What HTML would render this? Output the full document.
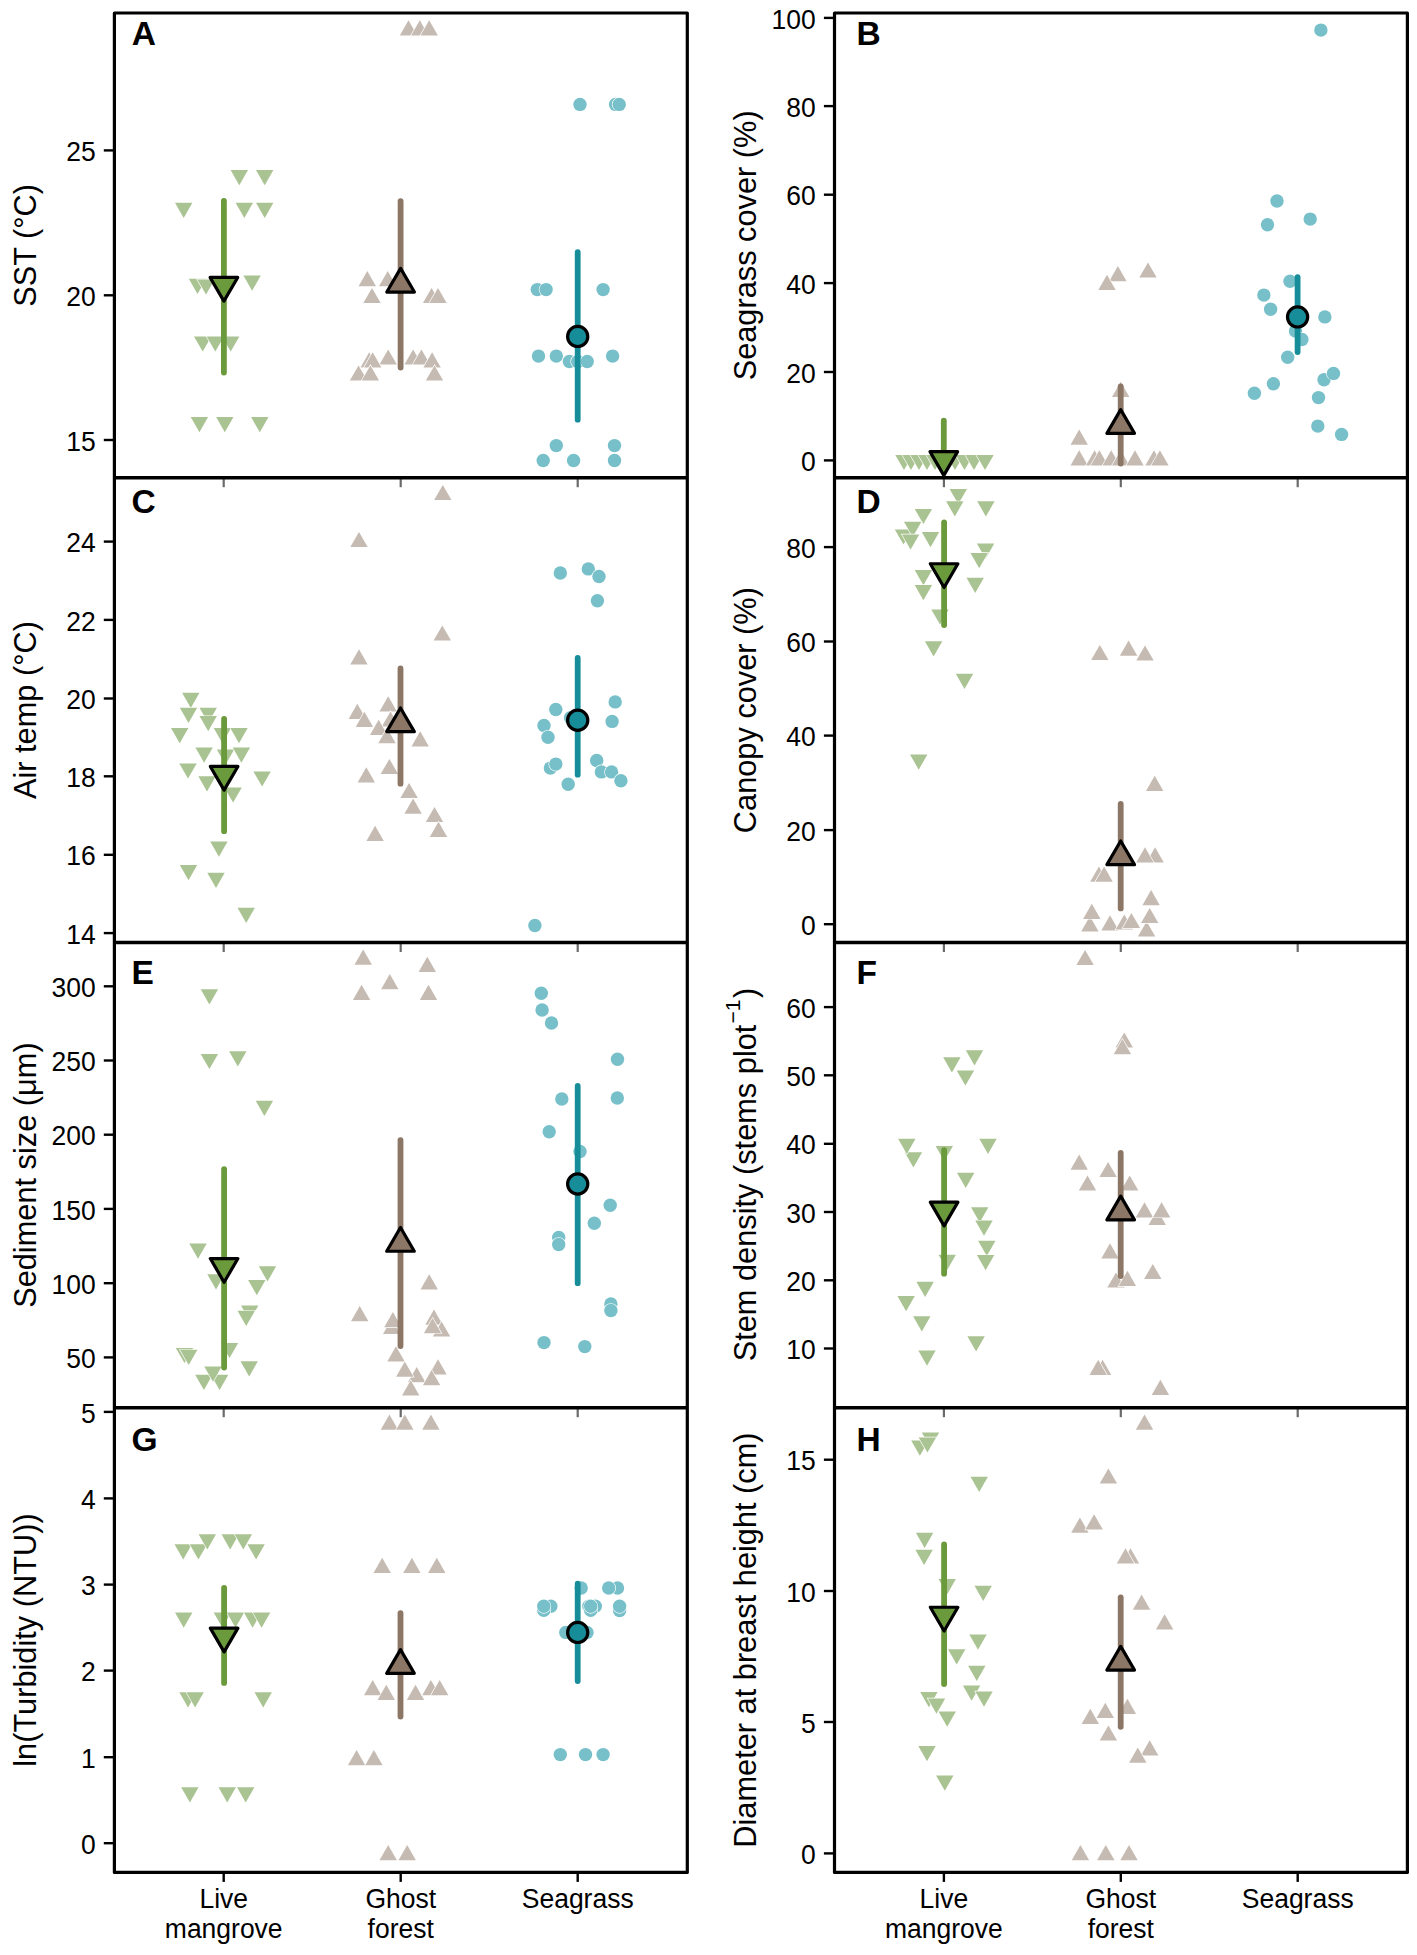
<!DOCTYPE html><html><head><meta charset="utf-8"><title>Figure</title><style>html,body{margin:0;padding:0;background:#fff;}svg{display:block;}text{font-family:"Liberation Sans", sans-serif;}</style></head><body>
<svg width="1417" height="1955" viewBox="0 0 1417 1955">
<rect width="1417" height="1955" fill="#fff"/>
<clipPath id="cA"><rect x="114.4" y="13.0" width="572.9" height="464.7"/></clipPath>
<g clip-path="url(#cA)">
<polygon points="230.60,170.10 248.00,170.10 239.30,185.30" fill="#aac392" stroke="#fff" stroke-width="1.30" stroke-linejoin="miter" paint-order="stroke"/>
<polygon points="256.00,170.10 273.40,170.10 264.70,185.30" fill="#aac392" stroke="#fff" stroke-width="1.30" stroke-linejoin="miter" paint-order="stroke"/>
<polygon points="175.00,202.70 192.40,202.70 183.70,217.90" fill="#aac392" stroke="#fff" stroke-width="1.30" stroke-linejoin="miter" paint-order="stroke"/>
<polygon points="235.60,202.70 253.00,202.70 244.30,217.90" fill="#aac392" stroke="#fff" stroke-width="1.30" stroke-linejoin="miter" paint-order="stroke"/>
<polygon points="256.00,202.70 273.40,202.70 264.70,217.90" fill="#aac392" stroke="#fff" stroke-width="1.30" stroke-linejoin="miter" paint-order="stroke"/>
<polygon points="188.80,278.80 206.20,278.80 197.50,294.00" fill="#aac392" stroke="#fff" stroke-width="1.30" stroke-linejoin="miter" paint-order="stroke"/>
<polygon points="197.30,279.40 214.70,279.40 206.00,294.60" fill="#aac392" stroke="#fff" stroke-width="1.30" stroke-linejoin="miter" paint-order="stroke"/>
<polygon points="243.40,275.50 260.80,275.50 252.10,290.70" fill="#aac392" stroke="#fff" stroke-width="1.30" stroke-linejoin="miter" paint-order="stroke"/>
<polygon points="194.00,336.40 211.40,336.40 202.70,351.60" fill="#aac392" stroke="#fff" stroke-width="1.30" stroke-linejoin="miter" paint-order="stroke"/>
<polygon points="206.60,336.40 224.00,336.40 215.30,351.60" fill="#aac392" stroke="#fff" stroke-width="1.30" stroke-linejoin="miter" paint-order="stroke"/>
<polygon points="222.00,336.40 239.40,336.40 230.70,351.60" fill="#aac392" stroke="#fff" stroke-width="1.30" stroke-linejoin="miter" paint-order="stroke"/>
<polygon points="190.70,417.10 208.10,417.10 199.40,432.30" fill="#aac392" stroke="#fff" stroke-width="1.30" stroke-linejoin="miter" paint-order="stroke"/>
<polygon points="216.10,417.10 233.50,417.10 224.80,432.30" fill="#aac392" stroke="#fff" stroke-width="1.30" stroke-linejoin="miter" paint-order="stroke"/>
<polygon points="251.10,417.10 268.50,417.10 259.80,432.30" fill="#aac392" stroke="#fff" stroke-width="1.30" stroke-linejoin="miter" paint-order="stroke"/>
<line x1="223.90" y1="200.90" x2="223.90" y2="372.60" stroke="#6b9a3c" stroke-width="5.80" stroke-linecap="round"/>
<polygon points="210.10,277.45 237.70,277.45 223.90,301.15" fill="#6b9a3c" stroke="#000" stroke-width="3.20" stroke-linejoin="round"/>
<polygon points="399.80,35.40 417.20,35.40 408.50,20.20" fill="#c6bbb2" stroke="#fff" stroke-width="1.30" stroke-linejoin="miter" paint-order="stroke"/>
<polygon points="411.10,35.40 428.50,35.40 419.80,20.20" fill="#c6bbb2" stroke="#fff" stroke-width="1.30" stroke-linejoin="miter" paint-order="stroke"/>
<polygon points="420.50,35.40 437.90,35.40 429.20,20.20" fill="#c6bbb2" stroke="#fff" stroke-width="1.30" stroke-linejoin="miter" paint-order="stroke"/>
<polygon points="358.60,286.20 376.00,286.20 367.30,271.00" fill="#c6bbb2" stroke="#fff" stroke-width="1.30" stroke-linejoin="miter" paint-order="stroke"/>
<polygon points="379.00,286.20 396.40,286.20 387.70,271.00" fill="#c6bbb2" stroke="#fff" stroke-width="1.30" stroke-linejoin="miter" paint-order="stroke"/>
<polygon points="363.30,303.10 380.70,303.10 372.00,287.90" fill="#c6bbb2" stroke="#fff" stroke-width="1.30" stroke-linejoin="miter" paint-order="stroke"/>
<polygon points="422.90,303.10 440.30,303.10 431.60,287.90" fill="#c6bbb2" stroke="#fff" stroke-width="1.30" stroke-linejoin="miter" paint-order="stroke"/>
<polygon points="429.30,303.10 446.70,303.10 438.00,287.90" fill="#c6bbb2" stroke="#fff" stroke-width="1.30" stroke-linejoin="miter" paint-order="stroke"/>
<polygon points="379.50,364.60 396.90,364.60 388.20,349.40" fill="#c6bbb2" stroke="#fff" stroke-width="1.30" stroke-linejoin="miter" paint-order="stroke"/>
<polygon points="360.50,367.40 377.90,367.40 369.20,352.20" fill="#c6bbb2" stroke="#fff" stroke-width="1.30" stroke-linejoin="miter" paint-order="stroke"/>
<polygon points="364.00,367.40 381.40,367.40 372.70,352.20" fill="#c6bbb2" stroke="#fff" stroke-width="1.30" stroke-linejoin="miter" paint-order="stroke"/>
<polygon points="349.80,380.60 367.20,380.60 358.50,365.40" fill="#c6bbb2" stroke="#fff" stroke-width="1.30" stroke-linejoin="miter" paint-order="stroke"/>
<polygon points="361.70,380.60 379.10,380.60 370.40,365.40" fill="#c6bbb2" stroke="#fff" stroke-width="1.30" stroke-linejoin="miter" paint-order="stroke"/>
<polygon points="404.40,364.60 421.80,364.60 413.10,349.40" fill="#c6bbb2" stroke="#fff" stroke-width="1.30" stroke-linejoin="miter" paint-order="stroke"/>
<polygon points="412.70,364.60 430.10,364.60 421.40,349.40" fill="#c6bbb2" stroke="#fff" stroke-width="1.30" stroke-linejoin="miter" paint-order="stroke"/>
<polygon points="423.40,367.40 440.80,367.40 432.10,352.20" fill="#c6bbb2" stroke="#fff" stroke-width="1.30" stroke-linejoin="miter" paint-order="stroke"/>
<polygon points="425.80,380.60 443.20,380.60 434.50,365.40" fill="#c6bbb2" stroke="#fff" stroke-width="1.30" stroke-linejoin="miter" paint-order="stroke"/>
<line x1="400.60" y1="201.10" x2="400.60" y2="367.60" stroke="#8c7666" stroke-width="5.80" stroke-linecap="round"/>
<polygon points="386.80,292.05 414.40,292.05 400.60,268.35" fill="#8c7666" stroke="#000" stroke-width="3.20" stroke-linejoin="round"/>
<circle cx="580.00" cy="104.40" r="6.70" fill="#77c0c9" stroke="#fff" stroke-width="1.30" paint-order="stroke"/>
<circle cx="615.60" cy="104.40" r="6.70" fill="#77c0c9" stroke="#fff" stroke-width="1.30" paint-order="stroke"/>
<circle cx="619.20" cy="104.40" r="6.70" fill="#77c0c9" stroke="#fff" stroke-width="1.30" paint-order="stroke"/>
<circle cx="537.30" cy="289.60" r="6.70" fill="#77c0c9" stroke="#fff" stroke-width="1.30" paint-order="stroke"/>
<circle cx="546.10" cy="289.60" r="6.70" fill="#77c0c9" stroke="#fff" stroke-width="1.30" paint-order="stroke"/>
<circle cx="603.10" cy="289.60" r="6.70" fill="#77c0c9" stroke="#fff" stroke-width="1.30" paint-order="stroke"/>
<circle cx="538.50" cy="356.10" r="6.70" fill="#77c0c9" stroke="#fff" stroke-width="1.30" paint-order="stroke"/>
<circle cx="556.30" cy="356.10" r="6.70" fill="#77c0c9" stroke="#fff" stroke-width="1.30" paint-order="stroke"/>
<circle cx="569.40" cy="361.50" r="6.70" fill="#77c0c9" stroke="#fff" stroke-width="1.30" paint-order="stroke"/>
<circle cx="577.70" cy="361.50" r="6.70" fill="#77c0c9" stroke="#fff" stroke-width="1.30" paint-order="stroke"/>
<circle cx="587.20" cy="361.50" r="6.70" fill="#77c0c9" stroke="#fff" stroke-width="1.30" paint-order="stroke"/>
<circle cx="612.60" cy="356.10" r="6.70" fill="#77c0c9" stroke="#fff" stroke-width="1.30" paint-order="stroke"/>
<circle cx="556.30" cy="445.60" r="6.70" fill="#77c0c9" stroke="#fff" stroke-width="1.30" paint-order="stroke"/>
<circle cx="614.50" cy="445.60" r="6.70" fill="#77c0c9" stroke="#fff" stroke-width="1.30" paint-order="stroke"/>
<circle cx="543.20" cy="460.50" r="6.70" fill="#77c0c9" stroke="#fff" stroke-width="1.30" paint-order="stroke"/>
<circle cx="573.60" cy="460.50" r="6.70" fill="#77c0c9" stroke="#fff" stroke-width="1.30" paint-order="stroke"/>
<circle cx="614.50" cy="460.50" r="6.70" fill="#77c0c9" stroke="#fff" stroke-width="1.30" paint-order="stroke"/>
<line x1="577.70" y1="252.10" x2="577.70" y2="419.70" stroke="#168d99" stroke-width="5.80" stroke-linecap="round"/>
<circle cx="577.70" cy="336.40" r="10.10" fill="#168d99" stroke="#000" stroke-width="3.20"/>
</g>
<clipPath id="cB"><rect x="834.5" y="13.0" width="572.9" height="464.7"/></clipPath>
<g clip-path="url(#cB)">
<polygon points="895.30,454.90 912.70,454.90 904.00,470.10" fill="#aac392" stroke="#fff" stroke-width="1.30" stroke-linejoin="miter" paint-order="stroke"/>
<polygon points="902.30,454.90 919.70,454.90 911.00,470.10" fill="#aac392" stroke="#fff" stroke-width="1.30" stroke-linejoin="miter" paint-order="stroke"/>
<polygon points="910.30,454.90 927.70,454.90 919.00,470.10" fill="#aac392" stroke="#fff" stroke-width="1.30" stroke-linejoin="miter" paint-order="stroke"/>
<polygon points="918.30,454.90 935.70,454.90 927.00,470.10" fill="#aac392" stroke="#fff" stroke-width="1.30" stroke-linejoin="miter" paint-order="stroke"/>
<polygon points="926.30,454.90 943.70,454.90 935.00,470.10" fill="#aac392" stroke="#fff" stroke-width="1.30" stroke-linejoin="miter" paint-order="stroke"/>
<polygon points="946.30,454.90 963.70,454.90 955.00,470.10" fill="#aac392" stroke="#fff" stroke-width="1.30" stroke-linejoin="miter" paint-order="stroke"/>
<polygon points="955.80,454.90 973.20,454.90 964.50,470.10" fill="#aac392" stroke="#fff" stroke-width="1.30" stroke-linejoin="miter" paint-order="stroke"/>
<polygon points="965.30,454.90 982.70,454.90 974.00,470.10" fill="#aac392" stroke="#fff" stroke-width="1.30" stroke-linejoin="miter" paint-order="stroke"/>
<polygon points="976.30,454.90 993.70,454.90 985.00,470.10" fill="#aac392" stroke="#fff" stroke-width="1.30" stroke-linejoin="miter" paint-order="stroke"/>
<line x1="943.80" y1="420.70" x2="943.80" y2="457.10" stroke="#6b9a3c" stroke-width="5.80" stroke-linecap="round"/>
<polygon points="930.00,451.65 957.60,451.65 943.80,475.35" fill="#6b9a3c" stroke="#000" stroke-width="3.20" stroke-linejoin="round"/>
<polygon points="1109.20,281.20 1126.60,281.20 1117.90,266.00" fill="#c6bbb2" stroke="#fff" stroke-width="1.30" stroke-linejoin="miter" paint-order="stroke"/>
<polygon points="1098.30,289.90 1115.70,289.90 1107.00,274.70" fill="#c6bbb2" stroke="#fff" stroke-width="1.30" stroke-linejoin="miter" paint-order="stroke"/>
<polygon points="1139.30,277.60 1156.70,277.60 1148.00,262.40" fill="#c6bbb2" stroke="#fff" stroke-width="1.30" stroke-linejoin="miter" paint-order="stroke"/>
<polygon points="1112.00,396.90 1129.40,396.90 1120.70,381.70" fill="#c6bbb2" stroke="#fff" stroke-width="1.30" stroke-linejoin="miter" paint-order="stroke"/>
<polygon points="1070.50,444.80 1087.90,444.80 1079.20,429.60" fill="#c6bbb2" stroke="#fff" stroke-width="1.30" stroke-linejoin="miter" paint-order="stroke"/>
<polygon points="1070.50,465.50 1087.90,465.50 1079.20,450.30" fill="#c6bbb2" stroke="#fff" stroke-width="1.30" stroke-linejoin="miter" paint-order="stroke"/>
<polygon points="1085.90,465.50 1103.30,465.50 1094.60,450.30" fill="#c6bbb2" stroke="#fff" stroke-width="1.30" stroke-linejoin="miter" paint-order="stroke"/>
<polygon points="1090.70,465.50 1108.10,465.50 1099.40,450.30" fill="#c6bbb2" stroke="#fff" stroke-width="1.30" stroke-linejoin="miter" paint-order="stroke"/>
<polygon points="1102.50,465.50 1119.90,465.50 1111.20,450.30" fill="#c6bbb2" stroke="#fff" stroke-width="1.30" stroke-linejoin="miter" paint-order="stroke"/>
<polygon points="1112.00,465.50 1129.40,465.50 1120.70,450.30" fill="#c6bbb2" stroke="#fff" stroke-width="1.30" stroke-linejoin="miter" paint-order="stroke"/>
<polygon points="1126.30,465.50 1143.70,465.50 1135.00,450.30" fill="#c6bbb2" stroke="#fff" stroke-width="1.30" stroke-linejoin="miter" paint-order="stroke"/>
<polygon points="1145.30,465.50 1162.70,465.50 1154.00,450.30" fill="#c6bbb2" stroke="#fff" stroke-width="1.30" stroke-linejoin="miter" paint-order="stroke"/>
<polygon points="1151.20,465.50 1168.60,465.50 1159.90,450.30" fill="#c6bbb2" stroke="#fff" stroke-width="1.30" stroke-linejoin="miter" paint-order="stroke"/>
<line x1="1120.70" y1="386.30" x2="1120.70" y2="463.60" stroke="#8c7666" stroke-width="5.80" stroke-linecap="round"/>
<polygon points="1106.90,433.35 1134.50,433.35 1120.70,409.65" fill="#8c7666" stroke="#000" stroke-width="3.20" stroke-linejoin="round"/>
<circle cx="1320.90" cy="30.10" r="6.70" fill="#77c0c9" stroke="#fff" stroke-width="1.30" paint-order="stroke"/>
<circle cx="1277.00" cy="201.00" r="6.70" fill="#77c0c9" stroke="#fff" stroke-width="1.30" paint-order="stroke"/>
<circle cx="1267.50" cy="224.80" r="6.70" fill="#77c0c9" stroke="#fff" stroke-width="1.30" paint-order="stroke"/>
<circle cx="1310.20" cy="219.10" r="6.70" fill="#77c0c9" stroke="#fff" stroke-width="1.30" paint-order="stroke"/>
<circle cx="1290.00" cy="281.30" r="6.70" fill="#77c0c9" stroke="#fff" stroke-width="1.30" paint-order="stroke"/>
<circle cx="1263.90" cy="295.10" r="6.70" fill="#77c0c9" stroke="#fff" stroke-width="1.30" paint-order="stroke"/>
<circle cx="1270.60" cy="309.30" r="6.70" fill="#77c0c9" stroke="#fff" stroke-width="1.30" paint-order="stroke"/>
<circle cx="1324.90" cy="316.90" r="6.70" fill="#77c0c9" stroke="#fff" stroke-width="1.30" paint-order="stroke"/>
<circle cx="1295.50" cy="331.10" r="6.70" fill="#77c0c9" stroke="#fff" stroke-width="1.30" paint-order="stroke"/>
<circle cx="1301.90" cy="339.50" r="6.70" fill="#77c0c9" stroke="#fff" stroke-width="1.30" paint-order="stroke"/>
<circle cx="1287.70" cy="357.30" r="6.70" fill="#77c0c9" stroke="#fff" stroke-width="1.30" paint-order="stroke"/>
<circle cx="1324.00" cy="379.80" r="6.70" fill="#77c0c9" stroke="#fff" stroke-width="1.30" paint-order="stroke"/>
<circle cx="1333.50" cy="373.40" r="6.70" fill="#77c0c9" stroke="#fff" stroke-width="1.30" paint-order="stroke"/>
<circle cx="1273.40" cy="383.80" r="6.70" fill="#77c0c9" stroke="#fff" stroke-width="1.30" paint-order="stroke"/>
<circle cx="1254.40" cy="393.30" r="6.70" fill="#77c0c9" stroke="#fff" stroke-width="1.30" paint-order="stroke"/>
<circle cx="1318.50" cy="397.60" r="6.70" fill="#77c0c9" stroke="#fff" stroke-width="1.30" paint-order="stroke"/>
<circle cx="1317.80" cy="426.10" r="6.70" fill="#77c0c9" stroke="#fff" stroke-width="1.30" paint-order="stroke"/>
<circle cx="1341.60" cy="434.40" r="6.70" fill="#77c0c9" stroke="#fff" stroke-width="1.30" paint-order="stroke"/>
<line x1="1297.60" y1="277.10" x2="1297.60" y2="352.00" stroke="#168d99" stroke-width="5.80" stroke-linecap="round"/>
<circle cx="1297.60" cy="316.90" r="10.10" fill="#168d99" stroke="#000" stroke-width="3.20"/>
</g>
<clipPath id="cC"><rect x="114.4" y="477.7" width="572.9" height="464.8"/></clipPath>
<g clip-path="url(#cC)">
<polygon points="182.10,692.70 199.50,692.70 190.80,707.90" fill="#aac392" stroke="#fff" stroke-width="1.30" stroke-linejoin="miter" paint-order="stroke"/>
<polygon points="179.80,707.70 197.20,707.70 188.50,722.90" fill="#aac392" stroke="#fff" stroke-width="1.30" stroke-linejoin="miter" paint-order="stroke"/>
<polygon points="199.50,707.70 216.90,707.70 208.20,722.90" fill="#aac392" stroke="#fff" stroke-width="1.30" stroke-linejoin="miter" paint-order="stroke"/>
<polygon points="199.50,716.10 216.90,716.10 208.20,731.30" fill="#aac392" stroke="#fff" stroke-width="1.30" stroke-linejoin="miter" paint-order="stroke"/>
<polygon points="171.00,728.00 188.40,728.00 179.70,743.20" fill="#aac392" stroke="#fff" stroke-width="1.30" stroke-linejoin="miter" paint-order="stroke"/>
<polygon points="213.70,728.00 231.10,728.00 222.40,743.20" fill="#aac392" stroke="#fff" stroke-width="1.30" stroke-linejoin="miter" paint-order="stroke"/>
<polygon points="230.30,728.00 247.70,728.00 239.00,743.20" fill="#aac392" stroke="#fff" stroke-width="1.30" stroke-linejoin="miter" paint-order="stroke"/>
<polygon points="195.40,747.60 212.80,747.60 204.10,762.80" fill="#aac392" stroke="#fff" stroke-width="1.30" stroke-linejoin="miter" paint-order="stroke"/>
<polygon points="216.80,749.40 234.20,749.40 225.50,764.60" fill="#aac392" stroke="#fff" stroke-width="1.30" stroke-linejoin="miter" paint-order="stroke"/>
<polygon points="232.70,747.60 250.10,747.60 241.40,762.80" fill="#aac392" stroke="#fff" stroke-width="1.30" stroke-linejoin="miter" paint-order="stroke"/>
<polygon points="179.30,763.40 196.70,763.40 188.00,778.60" fill="#aac392" stroke="#fff" stroke-width="1.30" stroke-linejoin="miter" paint-order="stroke"/>
<polygon points="198.30,776.30 215.70,776.30 207.00,791.50" fill="#aac392" stroke="#fff" stroke-width="1.30" stroke-linejoin="miter" paint-order="stroke"/>
<polygon points="224.40,787.40 241.80,787.40 233.10,802.60" fill="#aac392" stroke="#fff" stroke-width="1.30" stroke-linejoin="miter" paint-order="stroke"/>
<polygon points="253.40,771.40 270.80,771.40 262.10,786.60" fill="#aac392" stroke="#fff" stroke-width="1.30" stroke-linejoin="miter" paint-order="stroke"/>
<polygon points="210.20,841.50 227.60,841.50 218.90,856.70" fill="#aac392" stroke="#fff" stroke-width="1.30" stroke-linejoin="miter" paint-order="stroke"/>
<polygon points="179.80,865.00 197.20,865.00 188.50,880.20" fill="#aac392" stroke="#fff" stroke-width="1.30" stroke-linejoin="miter" paint-order="stroke"/>
<polygon points="207.30,872.80 224.70,872.80 216.00,888.00" fill="#aac392" stroke="#fff" stroke-width="1.30" stroke-linejoin="miter" paint-order="stroke"/>
<polygon points="237.50,907.70 254.90,907.70 246.20,922.90" fill="#aac392" stroke="#fff" stroke-width="1.30" stroke-linejoin="miter" paint-order="stroke"/>
<line x1="224.10" y1="719.00" x2="224.10" y2="831.20" stroke="#6b9a3c" stroke-width="5.80" stroke-linecap="round"/>
<polygon points="210.30,766.45 237.90,766.45 224.10,790.15" fill="#6b9a3c" stroke="#000" stroke-width="3.20" stroke-linejoin="round"/>
<polygon points="434.10,500.10 451.50,500.10 442.80,484.90" fill="#c6bbb2" stroke="#fff" stroke-width="1.30" stroke-linejoin="miter" paint-order="stroke"/>
<polygon points="350.30,547.10 367.70,547.10 359.00,531.90" fill="#c6bbb2" stroke="#fff" stroke-width="1.30" stroke-linejoin="miter" paint-order="stroke"/>
<polygon points="433.60,640.60 451.00,640.60 442.30,625.40" fill="#c6bbb2" stroke="#fff" stroke-width="1.30" stroke-linejoin="miter" paint-order="stroke"/>
<polygon points="350.30,664.50 367.70,664.50 359.00,649.30" fill="#c6bbb2" stroke="#fff" stroke-width="1.30" stroke-linejoin="miter" paint-order="stroke"/>
<polygon points="379.50,711.40 396.90,711.40 388.20,696.20" fill="#c6bbb2" stroke="#fff" stroke-width="1.30" stroke-linejoin="miter" paint-order="stroke"/>
<polygon points="348.60,719.00 366.00,719.00 357.30,703.80" fill="#c6bbb2" stroke="#fff" stroke-width="1.30" stroke-linejoin="miter" paint-order="stroke"/>
<polygon points="355.70,727.00 373.10,727.00 364.40,711.80" fill="#c6bbb2" stroke="#fff" stroke-width="1.30" stroke-linejoin="miter" paint-order="stroke"/>
<polygon points="381.80,726.60 399.20,726.60 390.50,711.40" fill="#c6bbb2" stroke="#fff" stroke-width="1.30" stroke-linejoin="miter" paint-order="stroke"/>
<polygon points="370.00,734.90 387.40,734.90 378.70,719.70" fill="#c6bbb2" stroke="#fff" stroke-width="1.30" stroke-linejoin="miter" paint-order="stroke"/>
<polygon points="378.30,743.20 395.70,743.20 387.00,728.00" fill="#c6bbb2" stroke="#fff" stroke-width="1.30" stroke-linejoin="miter" paint-order="stroke"/>
<polygon points="411.50,746.50 428.90,746.50 420.20,731.30" fill="#c6bbb2" stroke="#fff" stroke-width="1.30" stroke-linejoin="miter" paint-order="stroke"/>
<polygon points="380.70,774.10 398.10,774.10 389.40,758.90" fill="#c6bbb2" stroke="#fff" stroke-width="1.30" stroke-linejoin="miter" paint-order="stroke"/>
<polygon points="357.60,782.40 375.00,782.40 366.30,767.20" fill="#c6bbb2" stroke="#fff" stroke-width="1.30" stroke-linejoin="miter" paint-order="stroke"/>
<polygon points="400.40,798.10 417.80,798.10 409.10,782.90" fill="#c6bbb2" stroke="#fff" stroke-width="1.30" stroke-linejoin="miter" paint-order="stroke"/>
<polygon points="404.40,813.70 421.80,813.70 413.10,798.50" fill="#c6bbb2" stroke="#fff" stroke-width="1.30" stroke-linejoin="miter" paint-order="stroke"/>
<polygon points="425.80,822.10 443.20,822.10 434.50,806.90" fill="#c6bbb2" stroke="#fff" stroke-width="1.30" stroke-linejoin="miter" paint-order="stroke"/>
<polygon points="366.40,840.90 383.80,840.90 375.10,825.70" fill="#c6bbb2" stroke="#fff" stroke-width="1.30" stroke-linejoin="miter" paint-order="stroke"/>
<polygon points="429.80,837.00 447.20,837.00 438.50,821.80" fill="#c6bbb2" stroke="#fff" stroke-width="1.30" stroke-linejoin="miter" paint-order="stroke"/>
<line x1="400.50" y1="668.50" x2="400.50" y2="783.70" stroke="#8c7666" stroke-width="5.80" stroke-linecap="round"/>
<polygon points="386.70,731.65 414.30,731.65 400.50,707.95" fill="#8c7666" stroke="#000" stroke-width="3.20" stroke-linejoin="round"/>
<circle cx="560.30" cy="573.00" r="6.70" fill="#77c0c9" stroke="#fff" stroke-width="1.30" paint-order="stroke"/>
<circle cx="588.30" cy="568.90" r="6.70" fill="#77c0c9" stroke="#fff" stroke-width="1.30" paint-order="stroke"/>
<circle cx="599.00" cy="576.50" r="6.70" fill="#77c0c9" stroke="#fff" stroke-width="1.30" paint-order="stroke"/>
<circle cx="597.40" cy="600.70" r="6.70" fill="#77c0c9" stroke="#fff" stroke-width="1.30" paint-order="stroke"/>
<circle cx="615.20" cy="701.90" r="6.70" fill="#77c0c9" stroke="#fff" stroke-width="1.30" paint-order="stroke"/>
<circle cx="555.80" cy="709.50" r="6.70" fill="#77c0c9" stroke="#fff" stroke-width="1.30" paint-order="stroke"/>
<circle cx="570.50" cy="717.80" r="6.70" fill="#77c0c9" stroke="#fff" stroke-width="1.30" paint-order="stroke"/>
<circle cx="544.00" cy="725.40" r="6.70" fill="#77c0c9" stroke="#fff" stroke-width="1.30" paint-order="stroke"/>
<circle cx="612.10" cy="721.40" r="6.70" fill="#77c0c9" stroke="#fff" stroke-width="1.30" paint-order="stroke"/>
<circle cx="548.00" cy="737.30" r="6.70" fill="#77c0c9" stroke="#fff" stroke-width="1.30" paint-order="stroke"/>
<circle cx="550.40" cy="768.10" r="6.70" fill="#77c0c9" stroke="#fff" stroke-width="1.30" paint-order="stroke"/>
<circle cx="555.80" cy="764.10" r="6.70" fill="#77c0c9" stroke="#fff" stroke-width="1.30" paint-order="stroke"/>
<circle cx="596.70" cy="760.50" r="6.70" fill="#77c0c9" stroke="#fff" stroke-width="1.30" paint-order="stroke"/>
<circle cx="601.40" cy="771.90" r="6.70" fill="#77c0c9" stroke="#fff" stroke-width="1.30" paint-order="stroke"/>
<circle cx="611.60" cy="771.90" r="6.70" fill="#77c0c9" stroke="#fff" stroke-width="1.30" paint-order="stroke"/>
<circle cx="620.90" cy="780.70" r="6.70" fill="#77c0c9" stroke="#fff" stroke-width="1.30" paint-order="stroke"/>
<circle cx="568.20" cy="784.30" r="6.70" fill="#77c0c9" stroke="#fff" stroke-width="1.30" paint-order="stroke"/>
<circle cx="534.90" cy="925.50" r="6.70" fill="#77c0c9" stroke="#fff" stroke-width="1.30" paint-order="stroke"/>
<line x1="577.70" y1="657.80" x2="577.70" y2="774.70" stroke="#168d99" stroke-width="5.80" stroke-linecap="round"/>
<circle cx="577.70" cy="720.20" r="10.10" fill="#168d99" stroke="#000" stroke-width="3.20"/>
</g>
<clipPath id="cD"><rect x="834.5" y="477.7" width="572.9" height="464.8"/></clipPath>
<g clip-path="url(#cD)">
<polygon points="949.60,488.90 967.00,488.90 958.30,504.10" fill="#aac392" stroke="#fff" stroke-width="1.30" stroke-linejoin="miter" paint-order="stroke"/>
<polygon points="946.10,501.30 963.50,501.30 954.80,516.50" fill="#aac392" stroke="#fff" stroke-width="1.30" stroke-linejoin="miter" paint-order="stroke"/>
<polygon points="977.20,501.30 994.60,501.30 985.90,516.50" fill="#aac392" stroke="#fff" stroke-width="1.30" stroke-linejoin="miter" paint-order="stroke"/>
<polygon points="914.70,508.90 932.10,508.90 923.40,524.10" fill="#aac392" stroke="#fff" stroke-width="1.30" stroke-linejoin="miter" paint-order="stroke"/>
<polygon points="894.80,529.40 912.20,529.40 903.50,544.60" fill="#aac392" stroke="#fff" stroke-width="1.30" stroke-linejoin="miter" paint-order="stroke"/>
<polygon points="904.00,521.70 921.40,521.70 912.70,536.90" fill="#aac392" stroke="#fff" stroke-width="1.30" stroke-linejoin="miter" paint-order="stroke"/>
<polygon points="901.90,534.40 919.30,534.40 910.60,549.60" fill="#aac392" stroke="#fff" stroke-width="1.30" stroke-linejoin="miter" paint-order="stroke"/>
<polygon points="921.80,532.00 939.20,532.00 930.50,547.20" fill="#aac392" stroke="#fff" stroke-width="1.30" stroke-linejoin="miter" paint-order="stroke"/>
<polygon points="976.90,543.60 994.30,543.60 985.60,558.80" fill="#aac392" stroke="#fff" stroke-width="1.30" stroke-linejoin="miter" paint-order="stroke"/>
<polygon points="970.50,553.00 987.90,553.00 979.20,568.20" fill="#aac392" stroke="#fff" stroke-width="1.30" stroke-linejoin="miter" paint-order="stroke"/>
<polygon points="914.70,570.10 932.10,570.10 923.40,585.30" fill="#aac392" stroke="#fff" stroke-width="1.30" stroke-linejoin="miter" paint-order="stroke"/>
<polygon points="914.70,585.10 932.10,585.10 923.40,600.30" fill="#aac392" stroke="#fff" stroke-width="1.30" stroke-linejoin="miter" paint-order="stroke"/>
<polygon points="966.50,577.80 983.90,577.80 975.20,593.00" fill="#aac392" stroke="#fff" stroke-width="1.30" stroke-linejoin="miter" paint-order="stroke"/>
<polygon points="931.30,609.40 948.70,609.40 940.00,624.60" fill="#aac392" stroke="#fff" stroke-width="1.30" stroke-linejoin="miter" paint-order="stroke"/>
<polygon points="924.90,641.30 942.30,641.30 933.60,656.50" fill="#aac392" stroke="#fff" stroke-width="1.30" stroke-linejoin="miter" paint-order="stroke"/>
<polygon points="955.80,673.70 973.20,673.70 964.50,688.90" fill="#aac392" stroke="#fff" stroke-width="1.30" stroke-linejoin="miter" paint-order="stroke"/>
<polygon points="910.00,754.50 927.40,754.50 918.70,769.70" fill="#aac392" stroke="#fff" stroke-width="1.30" stroke-linejoin="miter" paint-order="stroke"/>
<line x1="944.10" y1="522.40" x2="944.10" y2="625.10" stroke="#6b9a3c" stroke-width="5.80" stroke-linecap="round"/>
<polygon points="930.30,563.75 957.90,563.75 944.10,587.45" fill="#6b9a3c" stroke="#000" stroke-width="3.20" stroke-linejoin="round"/>
<polygon points="1091.10,660.10 1108.50,660.10 1099.80,644.90" fill="#c6bbb2" stroke="#fff" stroke-width="1.30" stroke-linejoin="miter" paint-order="stroke"/>
<polygon points="1119.90,655.70 1137.30,655.70 1128.60,640.50" fill="#c6bbb2" stroke="#fff" stroke-width="1.30" stroke-linejoin="miter" paint-order="stroke"/>
<polygon points="1136.30,660.60 1153.70,660.60 1145.00,645.40" fill="#c6bbb2" stroke="#fff" stroke-width="1.30" stroke-linejoin="miter" paint-order="stroke"/>
<polygon points="1146.00,791.00 1163.40,791.00 1154.70,775.80" fill="#c6bbb2" stroke="#fff" stroke-width="1.30" stroke-linejoin="miter" paint-order="stroke"/>
<polygon points="1146.40,862.50 1163.80,862.50 1155.10,847.30" fill="#c6bbb2" stroke="#fff" stroke-width="1.30" stroke-linejoin="miter" paint-order="stroke"/>
<polygon points="1136.30,862.50 1153.70,862.50 1145.00,847.30" fill="#c6bbb2" stroke="#fff" stroke-width="1.30" stroke-linejoin="miter" paint-order="stroke"/>
<polygon points="1090.20,881.70 1107.60,881.70 1098.90,866.50" fill="#c6bbb2" stroke="#fff" stroke-width="1.30" stroke-linejoin="miter" paint-order="stroke"/>
<polygon points="1095.40,881.70 1112.80,881.70 1104.10,866.50" fill="#c6bbb2" stroke="#fff" stroke-width="1.30" stroke-linejoin="miter" paint-order="stroke"/>
<polygon points="1142.40,905.20 1159.80,905.20 1151.10,890.00" fill="#c6bbb2" stroke="#fff" stroke-width="1.30" stroke-linejoin="miter" paint-order="stroke"/>
<polygon points="1081.20,931.50 1098.60,931.50 1089.90,916.30" fill="#c6bbb2" stroke="#fff" stroke-width="1.30" stroke-linejoin="miter" paint-order="stroke"/>
<polygon points="1083.10,918.90 1100.50,918.90 1091.80,903.70" fill="#c6bbb2" stroke="#fff" stroke-width="1.30" stroke-linejoin="miter" paint-order="stroke"/>
<polygon points="1137.90,936.60 1155.30,936.60 1146.60,921.40" fill="#c6bbb2" stroke="#fff" stroke-width="1.30" stroke-linejoin="miter" paint-order="stroke"/>
<polygon points="1141.00,923.10 1158.40,923.10 1149.70,907.90" fill="#c6bbb2" stroke="#fff" stroke-width="1.30" stroke-linejoin="miter" paint-order="stroke"/>
<polygon points="1101.30,930.40 1118.70,930.40 1110.00,915.20" fill="#c6bbb2" stroke="#fff" stroke-width="1.30" stroke-linejoin="miter" paint-order="stroke"/>
<polygon points="1115.60,929.60 1133.00,929.60 1124.30,914.40" fill="#c6bbb2" stroke="#fff" stroke-width="1.30" stroke-linejoin="miter" paint-order="stroke"/>
<polygon points="1122.70,928.10 1140.10,928.10 1131.40,912.90" fill="#c6bbb2" stroke="#fff" stroke-width="1.30" stroke-linejoin="miter" paint-order="stroke"/>
<line x1="1120.70" y1="803.80" x2="1120.70" y2="908.40" stroke="#8c7666" stroke-width="5.80" stroke-linecap="round"/>
<polygon points="1106.90,864.65 1134.50,864.65 1120.70,840.95" fill="#8c7666" stroke="#000" stroke-width="3.20" stroke-linejoin="round"/>
</g>
<clipPath id="cE"><rect x="114.4" y="942.5" width="572.9" height="465.2"/></clipPath>
<g clip-path="url(#cE)">
<polygon points="200.70,989.20 218.10,989.20 209.40,1004.40" fill="#aac392" stroke="#fff" stroke-width="1.30" stroke-linejoin="miter" paint-order="stroke"/>
<polygon points="200.70,1053.90 218.10,1053.90 209.40,1069.10" fill="#aac392" stroke="#fff" stroke-width="1.30" stroke-linejoin="miter" paint-order="stroke"/>
<polygon points="229.10,1051.30 246.50,1051.30 237.80,1066.50" fill="#aac392" stroke="#fff" stroke-width="1.30" stroke-linejoin="miter" paint-order="stroke"/>
<polygon points="255.70,1100.80 273.10,1100.80 264.40,1116.00" fill="#aac392" stroke="#fff" stroke-width="1.30" stroke-linejoin="miter" paint-order="stroke"/>
<polygon points="189.30,1243.50 206.70,1243.50 198.00,1258.70" fill="#aac392" stroke="#fff" stroke-width="1.30" stroke-linejoin="miter" paint-order="stroke"/>
<polygon points="207.30,1274.30 224.70,1274.30 216.00,1289.50" fill="#aac392" stroke="#fff" stroke-width="1.30" stroke-linejoin="miter" paint-order="stroke"/>
<polygon points="258.80,1266.20 276.20,1266.20 267.50,1281.40" fill="#aac392" stroke="#fff" stroke-width="1.30" stroke-linejoin="miter" paint-order="stroke"/>
<polygon points="248.10,1280.00 265.50,1280.00 256.80,1295.20" fill="#aac392" stroke="#fff" stroke-width="1.30" stroke-linejoin="miter" paint-order="stroke"/>
<polygon points="241.00,1305.50 258.40,1305.50 249.70,1320.70" fill="#aac392" stroke="#fff" stroke-width="1.30" stroke-linejoin="miter" paint-order="stroke"/>
<polygon points="237.50,1310.80 254.90,1310.80 246.20,1326.00" fill="#aac392" stroke="#fff" stroke-width="1.30" stroke-linejoin="miter" paint-order="stroke"/>
<polygon points="175.80,1347.90 193.20,1347.90 184.50,1363.10" fill="#aac392" stroke="#fff" stroke-width="1.30" stroke-linejoin="miter" paint-order="stroke"/>
<polygon points="180.00,1349.80 197.40,1349.80 188.70,1365.00" fill="#aac392" stroke="#fff" stroke-width="1.30" stroke-linejoin="miter" paint-order="stroke"/>
<polygon points="220.80,1342.90 238.20,1342.90 229.50,1358.10" fill="#aac392" stroke="#fff" stroke-width="1.30" stroke-linejoin="miter" paint-order="stroke"/>
<polygon points="240.50,1361.30 257.90,1361.30 249.20,1376.50" fill="#aac392" stroke="#fff" stroke-width="1.30" stroke-linejoin="miter" paint-order="stroke"/>
<polygon points="195.20,1374.80 212.60,1374.80 203.90,1390.00" fill="#aac392" stroke="#fff" stroke-width="1.30" stroke-linejoin="miter" paint-order="stroke"/>
<polygon points="210.90,1374.80 228.30,1374.80 219.60,1390.00" fill="#aac392" stroke="#fff" stroke-width="1.30" stroke-linejoin="miter" paint-order="stroke"/>
<polygon points="204.30,1366.60 221.70,1366.60 213.00,1381.80" fill="#aac392" stroke="#fff" stroke-width="1.30" stroke-linejoin="miter" paint-order="stroke"/>
<line x1="224.10" y1="1169.10" x2="224.10" y2="1367.50" stroke="#6b9a3c" stroke-width="5.80" stroke-linecap="round"/>
<polygon points="210.30,1258.55 237.90,1258.55 224.10,1282.25" fill="#6b9a3c" stroke="#000" stroke-width="3.20" stroke-linejoin="round"/>
<polygon points="354.50,964.80 371.90,964.80 363.20,949.60" fill="#c6bbb2" stroke="#fff" stroke-width="1.30" stroke-linejoin="miter" paint-order="stroke"/>
<polygon points="418.60,972.00 436.00,972.00 427.30,956.80" fill="#c6bbb2" stroke="#fff" stroke-width="1.30" stroke-linejoin="miter" paint-order="stroke"/>
<polygon points="381.10,989.20 398.50,989.20 389.80,974.00" fill="#c6bbb2" stroke="#fff" stroke-width="1.30" stroke-linejoin="miter" paint-order="stroke"/>
<polygon points="352.90,999.90 370.30,999.90 361.60,984.70" fill="#c6bbb2" stroke="#fff" stroke-width="1.30" stroke-linejoin="miter" paint-order="stroke"/>
<polygon points="419.80,999.90 437.20,999.90 428.50,984.70" fill="#c6bbb2" stroke="#fff" stroke-width="1.30" stroke-linejoin="miter" paint-order="stroke"/>
<polygon points="420.50,1289.50 437.90,1289.50 429.20,1274.30" fill="#c6bbb2" stroke="#fff" stroke-width="1.30" stroke-linejoin="miter" paint-order="stroke"/>
<polygon points="351.00,1321.30 368.40,1321.30 359.70,1306.10" fill="#c6bbb2" stroke="#fff" stroke-width="1.30" stroke-linejoin="miter" paint-order="stroke"/>
<polygon points="383.00,1334.10 400.40,1334.10 391.70,1318.90" fill="#c6bbb2" stroke="#fff" stroke-width="1.30" stroke-linejoin="miter" paint-order="stroke"/>
<polygon points="384.20,1327.30 401.60,1327.30 392.90,1312.10" fill="#c6bbb2" stroke="#fff" stroke-width="1.30" stroke-linejoin="miter" paint-order="stroke"/>
<polygon points="425.30,1324.80 442.70,1324.80 434.00,1309.60" fill="#c6bbb2" stroke="#fff" stroke-width="1.30" stroke-linejoin="miter" paint-order="stroke"/>
<polygon points="432.90,1336.60 450.30,1336.60 441.60,1321.40" fill="#c6bbb2" stroke="#fff" stroke-width="1.30" stroke-linejoin="miter" paint-order="stroke"/>
<polygon points="423.90,1333.20 441.30,1333.20 432.60,1318.00" fill="#c6bbb2" stroke="#fff" stroke-width="1.30" stroke-linejoin="miter" paint-order="stroke"/>
<polygon points="387.30,1361.40 404.70,1361.40 396.00,1346.20" fill="#c6bbb2" stroke="#fff" stroke-width="1.30" stroke-linejoin="miter" paint-order="stroke"/>
<polygon points="408.00,1382.20 425.40,1382.20 416.70,1367.00" fill="#c6bbb2" stroke="#fff" stroke-width="1.30" stroke-linejoin="miter" paint-order="stroke"/>
<polygon points="396.10,1376.80 413.50,1376.80 404.80,1361.60" fill="#c6bbb2" stroke="#fff" stroke-width="1.30" stroke-linejoin="miter" paint-order="stroke"/>
<polygon points="429.30,1374.40 446.70,1374.40 438.00,1359.20" fill="#c6bbb2" stroke="#fff" stroke-width="1.30" stroke-linejoin="miter" paint-order="stroke"/>
<polygon points="422.90,1385.20 440.30,1385.20 431.60,1370.00" fill="#c6bbb2" stroke="#fff" stroke-width="1.30" stroke-linejoin="miter" paint-order="stroke"/>
<polygon points="402.00,1395.50 419.40,1395.50 410.70,1380.30" fill="#c6bbb2" stroke="#fff" stroke-width="1.30" stroke-linejoin="miter" paint-order="stroke"/>
<line x1="400.50" y1="1140.10" x2="400.50" y2="1346.10" stroke="#8c7666" stroke-width="5.80" stroke-linecap="round"/>
<polygon points="386.70,1251.25 414.30,1251.25 400.50,1227.55" fill="#8c7666" stroke="#000" stroke-width="3.20" stroke-linejoin="round"/>
<circle cx="541.30" cy="993.30" r="6.70" fill="#77c0c9" stroke="#fff" stroke-width="1.30" paint-order="stroke"/>
<circle cx="542.10" cy="1010.00" r="6.70" fill="#77c0c9" stroke="#fff" stroke-width="1.30" paint-order="stroke"/>
<circle cx="551.50" cy="1023.00" r="6.70" fill="#77c0c9" stroke="#fff" stroke-width="1.30" paint-order="stroke"/>
<circle cx="617.50" cy="1059.30" r="6.70" fill="#77c0c9" stroke="#fff" stroke-width="1.30" paint-order="stroke"/>
<circle cx="561.80" cy="1099.00" r="6.70" fill="#77c0c9" stroke="#fff" stroke-width="1.30" paint-order="stroke"/>
<circle cx="617.30" cy="1098.00" r="6.70" fill="#77c0c9" stroke="#fff" stroke-width="1.30" paint-order="stroke"/>
<circle cx="549.20" cy="1131.70" r="6.70" fill="#77c0c9" stroke="#fff" stroke-width="1.30" paint-order="stroke"/>
<circle cx="580.00" cy="1151.50" r="6.70" fill="#77c0c9" stroke="#fff" stroke-width="1.30" paint-order="stroke"/>
<circle cx="610.20" cy="1205.30" r="6.70" fill="#77c0c9" stroke="#fff" stroke-width="1.30" paint-order="stroke"/>
<circle cx="594.30" cy="1223.20" r="6.70" fill="#77c0c9" stroke="#fff" stroke-width="1.30" paint-order="stroke"/>
<circle cx="558.70" cy="1237.40" r="6.70" fill="#77c0c9" stroke="#fff" stroke-width="1.30" paint-order="stroke"/>
<circle cx="558.70" cy="1244.50" r="6.70" fill="#77c0c9" stroke="#fff" stroke-width="1.30" paint-order="stroke"/>
<circle cx="610.90" cy="1303.90" r="6.70" fill="#77c0c9" stroke="#fff" stroke-width="1.30" paint-order="stroke"/>
<circle cx="610.90" cy="1310.50" r="6.70" fill="#77c0c9" stroke="#fff" stroke-width="1.30" paint-order="stroke"/>
<circle cx="544.00" cy="1342.60" r="6.70" fill="#77c0c9" stroke="#fff" stroke-width="1.30" paint-order="stroke"/>
<circle cx="584.80" cy="1346.60" r="6.70" fill="#77c0c9" stroke="#fff" stroke-width="1.30" paint-order="stroke"/>
<line x1="577.70" y1="1086.00" x2="577.70" y2="1283.20" stroke="#168d99" stroke-width="5.80" stroke-linecap="round"/>
<circle cx="577.70" cy="1184.00" r="10.10" fill="#168d99" stroke="#000" stroke-width="3.20"/>
</g>
<clipPath id="cF"><rect x="834.5" y="942.5" width="572.9" height="465.2"/></clipPath>
<g clip-path="url(#cF)">
<polygon points="965.80,1050.20 983.20,1050.20 974.50,1065.40" fill="#aac392" stroke="#fff" stroke-width="1.30" stroke-linejoin="miter" paint-order="stroke"/>
<polygon points="943.20,1057.30 960.60,1057.30 951.90,1072.50" fill="#aac392" stroke="#fff" stroke-width="1.30" stroke-linejoin="miter" paint-order="stroke"/>
<polygon points="956.70,1070.40 974.10,1070.40 965.40,1085.60" fill="#aac392" stroke="#fff" stroke-width="1.30" stroke-linejoin="miter" paint-order="stroke"/>
<polygon points="904.70,1152.20 922.10,1152.20 913.40,1167.40" fill="#aac392" stroke="#fff" stroke-width="1.30" stroke-linejoin="miter" paint-order="stroke"/>
<polygon points="898.10,1138.80 915.50,1138.80 906.80,1154.00" fill="#aac392" stroke="#fff" stroke-width="1.30" stroke-linejoin="miter" paint-order="stroke"/>
<polygon points="935.60,1145.90 953.00,1145.90 944.30,1161.10" fill="#aac392" stroke="#fff" stroke-width="1.30" stroke-linejoin="miter" paint-order="stroke"/>
<polygon points="979.30,1138.80 996.70,1138.80 988.00,1154.00" fill="#aac392" stroke="#fff" stroke-width="1.30" stroke-linejoin="miter" paint-order="stroke"/>
<polygon points="957.00,1172.80 974.40,1172.80 965.70,1188.00" fill="#aac392" stroke="#fff" stroke-width="1.30" stroke-linejoin="miter" paint-order="stroke"/>
<polygon points="971.00,1207.30 988.40,1207.30 979.70,1222.50" fill="#aac392" stroke="#fff" stroke-width="1.30" stroke-linejoin="miter" paint-order="stroke"/>
<polygon points="975.30,1220.60 992.70,1220.60 984.00,1235.80" fill="#aac392" stroke="#fff" stroke-width="1.30" stroke-linejoin="miter" paint-order="stroke"/>
<polygon points="978.10,1240.80 995.50,1240.80 986.80,1256.00" fill="#aac392" stroke="#fff" stroke-width="1.30" stroke-linejoin="miter" paint-order="stroke"/>
<polygon points="976.90,1255.10 994.30,1255.10 985.60,1270.30" fill="#aac392" stroke="#fff" stroke-width="1.30" stroke-linejoin="miter" paint-order="stroke"/>
<polygon points="938.50,1254.70 955.90,1254.70 947.20,1269.90" fill="#aac392" stroke="#fff" stroke-width="1.30" stroke-linejoin="miter" paint-order="stroke"/>
<polygon points="916.40,1281.80 933.80,1281.80 925.10,1297.00" fill="#aac392" stroke="#fff" stroke-width="1.30" stroke-linejoin="miter" paint-order="stroke"/>
<polygon points="897.40,1296.10 914.80,1296.10 906.10,1311.30" fill="#aac392" stroke="#fff" stroke-width="1.30" stroke-linejoin="miter" paint-order="stroke"/>
<polygon points="913.10,1316.20 930.50,1316.20 921.80,1331.40" fill="#aac392" stroke="#fff" stroke-width="1.30" stroke-linejoin="miter" paint-order="stroke"/>
<polygon points="967.40,1336.30 984.80,1336.30 976.10,1351.50" fill="#aac392" stroke="#fff" stroke-width="1.30" stroke-linejoin="miter" paint-order="stroke"/>
<polygon points="918.30,1350.60 935.70,1350.60 927.00,1365.80" fill="#aac392" stroke="#fff" stroke-width="1.30" stroke-linejoin="miter" paint-order="stroke"/>
<line x1="944.10" y1="1150.10" x2="944.10" y2="1273.70" stroke="#6b9a3c" stroke-width="5.80" stroke-linecap="round"/>
<polygon points="930.30,1202.15 957.90,1202.15 944.10,1225.85" fill="#6b9a3c" stroke="#000" stroke-width="3.20" stroke-linejoin="round"/>
<polygon points="1076.40,965.10 1093.80,965.10 1085.10,949.90" fill="#c6bbb2" stroke="#fff" stroke-width="1.30" stroke-linejoin="miter" paint-order="stroke"/>
<polygon points="1115.60,1047.60 1133.00,1047.60 1124.30,1032.40" fill="#c6bbb2" stroke="#fff" stroke-width="1.30" stroke-linejoin="miter" paint-order="stroke"/>
<polygon points="1113.70,1054.20 1131.10,1054.20 1122.40,1039.00" fill="#c6bbb2" stroke="#fff" stroke-width="1.30" stroke-linejoin="miter" paint-order="stroke"/>
<polygon points="1070.50,1169.80 1087.90,1169.80 1079.20,1154.60" fill="#c6bbb2" stroke="#fff" stroke-width="1.30" stroke-linejoin="miter" paint-order="stroke"/>
<polygon points="1099.40,1177.10 1116.80,1177.10 1108.10,1161.90" fill="#c6bbb2" stroke="#fff" stroke-width="1.30" stroke-linejoin="miter" paint-order="stroke"/>
<polygon points="1078.80,1190.60 1096.20,1190.60 1087.50,1175.40" fill="#c6bbb2" stroke="#fff" stroke-width="1.30" stroke-linejoin="miter" paint-order="stroke"/>
<polygon points="1121.00,1190.60 1138.40,1190.60 1129.70,1175.40" fill="#c6bbb2" stroke="#fff" stroke-width="1.30" stroke-linejoin="miter" paint-order="stroke"/>
<polygon points="1148.50,1225.00 1165.90,1225.00 1157.20,1209.80" fill="#c6bbb2" stroke="#fff" stroke-width="1.30" stroke-linejoin="miter" paint-order="stroke"/>
<polygon points="1135.80,1217.40 1153.20,1217.40 1144.50,1202.20" fill="#c6bbb2" stroke="#fff" stroke-width="1.30" stroke-linejoin="miter" paint-order="stroke"/>
<polygon points="1152.90,1217.40 1170.30,1217.40 1161.60,1202.20" fill="#c6bbb2" stroke="#fff" stroke-width="1.30" stroke-linejoin="miter" paint-order="stroke"/>
<polygon points="1101.30,1258.50 1118.70,1258.50 1110.00,1243.30" fill="#c6bbb2" stroke="#fff" stroke-width="1.30" stroke-linejoin="miter" paint-order="stroke"/>
<polygon points="1144.10,1279.10 1161.50,1279.10 1152.80,1263.90" fill="#c6bbb2" stroke="#fff" stroke-width="1.30" stroke-linejoin="miter" paint-order="stroke"/>
<polygon points="1107.30,1287.60 1124.70,1287.60 1116.00,1272.40" fill="#c6bbb2" stroke="#fff" stroke-width="1.30" stroke-linejoin="miter" paint-order="stroke"/>
<polygon points="1118.70,1286.00 1136.10,1286.00 1127.40,1270.80" fill="#c6bbb2" stroke="#fff" stroke-width="1.30" stroke-linejoin="miter" paint-order="stroke"/>
<polygon points="1093.90,1374.90 1111.30,1374.90 1102.60,1359.70" fill="#c6bbb2" stroke="#fff" stroke-width="1.30" stroke-linejoin="miter" paint-order="stroke"/>
<polygon points="1089.50,1374.90 1106.90,1374.90 1098.20,1359.70" fill="#c6bbb2" stroke="#fff" stroke-width="1.30" stroke-linejoin="miter" paint-order="stroke"/>
<polygon points="1151.70,1395.00 1169.10,1395.00 1160.40,1379.80" fill="#c6bbb2" stroke="#fff" stroke-width="1.30" stroke-linejoin="miter" paint-order="stroke"/>
<line x1="1120.70" y1="1152.90" x2="1120.70" y2="1276.10" stroke="#8c7666" stroke-width="5.80" stroke-linecap="round"/>
<polygon points="1106.90,1219.85 1134.50,1219.85 1120.70,1196.15" fill="#8c7666" stroke="#000" stroke-width="3.20" stroke-linejoin="round"/>
</g>
<clipPath id="cG"><rect x="114.4" y="1407.7" width="572.9" height="464.7"/></clipPath>
<g clip-path="url(#cG)">
<polygon points="174.50,1544.30 191.90,1544.30 183.20,1559.50" fill="#aac392" stroke="#fff" stroke-width="1.30" stroke-linejoin="miter" paint-order="stroke"/>
<polygon points="189.70,1544.30 207.10,1544.30 198.40,1559.50" fill="#aac392" stroke="#fff" stroke-width="1.30" stroke-linejoin="miter" paint-order="stroke"/>
<polygon points="198.60,1534.20 216.00,1534.20 207.30,1549.40" fill="#aac392" stroke="#fff" stroke-width="1.30" stroke-linejoin="miter" paint-order="stroke"/>
<polygon points="221.50,1534.20 238.90,1534.20 230.20,1549.40" fill="#aac392" stroke="#fff" stroke-width="1.30" stroke-linejoin="miter" paint-order="stroke"/>
<polygon points="234.60,1534.20 252.00,1534.20 243.30,1549.40" fill="#aac392" stroke="#fff" stroke-width="1.30" stroke-linejoin="miter" paint-order="stroke"/>
<polygon points="247.40,1544.30 264.80,1544.30 256.10,1559.50" fill="#aac392" stroke="#fff" stroke-width="1.30" stroke-linejoin="miter" paint-order="stroke"/>
<polygon points="175.00,1612.50 192.40,1612.50 183.70,1627.70" fill="#aac392" stroke="#fff" stroke-width="1.30" stroke-linejoin="miter" paint-order="stroke"/>
<polygon points="213.70,1612.50 231.10,1612.50 222.40,1627.70" fill="#aac392" stroke="#fff" stroke-width="1.30" stroke-linejoin="miter" paint-order="stroke"/>
<polygon points="226.80,1612.50 244.20,1612.50 235.50,1627.70" fill="#aac392" stroke="#fff" stroke-width="1.30" stroke-linejoin="miter" paint-order="stroke"/>
<polygon points="243.90,1612.50 261.30,1612.50 252.60,1627.70" fill="#aac392" stroke="#fff" stroke-width="1.30" stroke-linejoin="miter" paint-order="stroke"/>
<polygon points="252.90,1612.50 270.30,1612.50 261.60,1627.70" fill="#aac392" stroke="#fff" stroke-width="1.30" stroke-linejoin="miter" paint-order="stroke"/>
<polygon points="179.30,1692.20 196.70,1692.20 188.00,1707.40" fill="#aac392" stroke="#fff" stroke-width="1.30" stroke-linejoin="miter" paint-order="stroke"/>
<polygon points="186.40,1692.20 203.80,1692.20 195.10,1707.40" fill="#aac392" stroke="#fff" stroke-width="1.30" stroke-linejoin="miter" paint-order="stroke"/>
<polygon points="254.50,1692.20 271.90,1692.20 263.20,1707.40" fill="#aac392" stroke="#fff" stroke-width="1.30" stroke-linejoin="miter" paint-order="stroke"/>
<polygon points="181.20,1787.20 198.60,1787.20 189.90,1802.40" fill="#aac392" stroke="#fff" stroke-width="1.30" stroke-linejoin="miter" paint-order="stroke"/>
<polygon points="218.50,1787.20 235.90,1787.20 227.20,1802.40" fill="#aac392" stroke="#fff" stroke-width="1.30" stroke-linejoin="miter" paint-order="stroke"/>
<polygon points="237.00,1787.20 254.40,1787.20 245.70,1802.40" fill="#aac392" stroke="#fff" stroke-width="1.30" stroke-linejoin="miter" paint-order="stroke"/>
<line x1="224.10" y1="1587.80" x2="224.10" y2="1682.90" stroke="#6b9a3c" stroke-width="5.80" stroke-linecap="round"/>
<polygon points="210.30,1628.15 237.90,1628.15 224.10,1651.85" fill="#6b9a3c" stroke="#000" stroke-width="3.20" stroke-linejoin="round"/>
<polygon points="380.70,1429.80 398.10,1429.80 389.40,1414.60" fill="#c6bbb2" stroke="#fff" stroke-width="1.30" stroke-linejoin="miter" paint-order="stroke"/>
<polygon points="396.10,1429.80 413.50,1429.80 404.80,1414.60" fill="#c6bbb2" stroke="#fff" stroke-width="1.30" stroke-linejoin="miter" paint-order="stroke"/>
<polygon points="422.20,1429.80 439.60,1429.80 430.90,1414.60" fill="#c6bbb2" stroke="#fff" stroke-width="1.30" stroke-linejoin="miter" paint-order="stroke"/>
<polygon points="373.50,1572.90 390.90,1572.90 382.20,1557.70" fill="#c6bbb2" stroke="#fff" stroke-width="1.30" stroke-linejoin="miter" paint-order="stroke"/>
<polygon points="403.20,1572.90 420.60,1572.90 411.90,1557.70" fill="#c6bbb2" stroke="#fff" stroke-width="1.30" stroke-linejoin="miter" paint-order="stroke"/>
<polygon points="428.10,1572.90 445.50,1572.90 436.80,1557.70" fill="#c6bbb2" stroke="#fff" stroke-width="1.30" stroke-linejoin="miter" paint-order="stroke"/>
<polygon points="364.00,1695.20 381.40,1695.20 372.70,1680.00" fill="#c6bbb2" stroke="#fff" stroke-width="1.30" stroke-linejoin="miter" paint-order="stroke"/>
<polygon points="377.60,1700.00 395.00,1700.00 386.30,1684.80" fill="#c6bbb2" stroke="#fff" stroke-width="1.30" stroke-linejoin="miter" paint-order="stroke"/>
<polygon points="406.80,1700.00 424.20,1700.00 415.50,1684.80" fill="#c6bbb2" stroke="#fff" stroke-width="1.30" stroke-linejoin="miter" paint-order="stroke"/>
<polygon points="422.20,1695.20 439.60,1695.20 430.90,1680.00" fill="#c6bbb2" stroke="#fff" stroke-width="1.30" stroke-linejoin="miter" paint-order="stroke"/>
<polygon points="431.00,1695.20 448.40,1695.20 439.70,1680.00" fill="#c6bbb2" stroke="#fff" stroke-width="1.30" stroke-linejoin="miter" paint-order="stroke"/>
<polygon points="347.90,1765.20 365.30,1765.20 356.60,1750.00" fill="#c6bbb2" stroke="#fff" stroke-width="1.30" stroke-linejoin="miter" paint-order="stroke"/>
<polygon points="365.20,1765.20 382.60,1765.20 373.90,1750.00" fill="#c6bbb2" stroke="#fff" stroke-width="1.30" stroke-linejoin="miter" paint-order="stroke"/>
<polygon points="379.50,1860.20 396.90,1860.20 388.20,1845.00" fill="#c6bbb2" stroke="#fff" stroke-width="1.30" stroke-linejoin="miter" paint-order="stroke"/>
<polygon points="398.50,1860.20 415.90,1860.20 407.20,1845.00" fill="#c6bbb2" stroke="#fff" stroke-width="1.30" stroke-linejoin="miter" paint-order="stroke"/>
<line x1="400.50" y1="1613.20" x2="400.50" y2="1716.60" stroke="#8c7666" stroke-width="5.80" stroke-linecap="round"/>
<polygon points="386.70,1673.35 414.30,1673.35 400.50,1649.65" fill="#8c7666" stroke="#000" stroke-width="3.20" stroke-linejoin="round"/>
<circle cx="581.20" cy="1588.00" r="6.70" fill="#77c0c9" stroke="#fff" stroke-width="1.30" paint-order="stroke"/>
<circle cx="617.50" cy="1588.00" r="6.70" fill="#77c0c9" stroke="#fff" stroke-width="1.30" paint-order="stroke"/>
<circle cx="608.70" cy="1588.00" r="6.70" fill="#77c0c9" stroke="#fff" stroke-width="1.30" paint-order="stroke"/>
<circle cx="550.80" cy="1606.30" r="6.70" fill="#77c0c9" stroke="#fff" stroke-width="1.30" paint-order="stroke"/>
<circle cx="543.80" cy="1610.30" r="6.70" fill="#77c0c9" stroke="#fff" stroke-width="1.30" paint-order="stroke"/>
<circle cx="543.80" cy="1606.30" r="6.70" fill="#77c0c9" stroke="#fff" stroke-width="1.30" paint-order="stroke"/>
<circle cx="588.90" cy="1606.30" r="6.70" fill="#77c0c9" stroke="#fff" stroke-width="1.30" paint-order="stroke"/>
<circle cx="595.30" cy="1606.30" r="6.70" fill="#77c0c9" stroke="#fff" stroke-width="1.30" paint-order="stroke"/>
<circle cx="590.70" cy="1610.30" r="6.70" fill="#77c0c9" stroke="#fff" stroke-width="1.30" paint-order="stroke"/>
<circle cx="590.70" cy="1606.30" r="6.70" fill="#77c0c9" stroke="#fff" stroke-width="1.30" paint-order="stroke"/>
<circle cx="619.60" cy="1610.50" r="6.70" fill="#77c0c9" stroke="#fff" stroke-width="1.30" paint-order="stroke"/>
<circle cx="619.60" cy="1606.30" r="6.70" fill="#77c0c9" stroke="#fff" stroke-width="1.30" paint-order="stroke"/>
<circle cx="565.80" cy="1632.40" r="6.70" fill="#77c0c9" stroke="#fff" stroke-width="1.30" paint-order="stroke"/>
<circle cx="587.00" cy="1632.40" r="6.70" fill="#77c0c9" stroke="#fff" stroke-width="1.30" paint-order="stroke"/>
<circle cx="560.30" cy="1754.60" r="6.70" fill="#77c0c9" stroke="#fff" stroke-width="1.30" paint-order="stroke"/>
<circle cx="585.50" cy="1754.60" r="6.70" fill="#77c0c9" stroke="#fff" stroke-width="1.30" paint-order="stroke"/>
<circle cx="603.10" cy="1754.60" r="6.70" fill="#77c0c9" stroke="#fff" stroke-width="1.30" paint-order="stroke"/>
<line x1="577.70" y1="1583.70" x2="577.70" y2="1681.00" stroke="#168d99" stroke-width="5.80" stroke-linecap="round"/>
<circle cx="577.70" cy="1632.40" r="10.10" fill="#168d99" stroke="#000" stroke-width="3.20"/>
</g>
<clipPath id="cH"><rect x="834.5" y="1407.7" width="572.9" height="464.7"/></clipPath>
<g clip-path="url(#cH)">
<polygon points="911.20,1440.50 928.60,1440.50 919.90,1455.70" fill="#aac392" stroke="#fff" stroke-width="1.30" stroke-linejoin="miter" paint-order="stroke"/>
<polygon points="921.80,1432.40 939.20,1432.40 930.50,1447.60" fill="#aac392" stroke="#fff" stroke-width="1.30" stroke-linejoin="miter" paint-order="stroke"/>
<polygon points="918.70,1437.40 936.10,1437.40 927.40,1452.60" fill="#aac392" stroke="#fff" stroke-width="1.30" stroke-linejoin="miter" paint-order="stroke"/>
<polygon points="970.50,1476.70 987.90,1476.70 979.20,1491.90" fill="#aac392" stroke="#fff" stroke-width="1.30" stroke-linejoin="miter" paint-order="stroke"/>
<polygon points="915.90,1532.80 933.30,1532.80 924.60,1548.00" fill="#aac392" stroke="#fff" stroke-width="1.30" stroke-linejoin="miter" paint-order="stroke"/>
<polygon points="915.40,1549.70 932.80,1549.70 924.10,1564.90" fill="#aac392" stroke="#fff" stroke-width="1.30" stroke-linejoin="miter" paint-order="stroke"/>
<polygon points="938.50,1579.00 955.90,1579.00 947.20,1594.20" fill="#aac392" stroke="#fff" stroke-width="1.30" stroke-linejoin="miter" paint-order="stroke"/>
<polygon points="974.50,1585.80 991.90,1585.80 983.20,1601.00" fill="#aac392" stroke="#fff" stroke-width="1.30" stroke-linejoin="miter" paint-order="stroke"/>
<polygon points="969.30,1634.60 986.70,1634.60 978.00,1649.80" fill="#aac392" stroke="#fff" stroke-width="1.30" stroke-linejoin="miter" paint-order="stroke"/>
<polygon points="948.00,1649.30 965.40,1649.30 956.70,1664.50" fill="#aac392" stroke="#fff" stroke-width="1.30" stroke-linejoin="miter" paint-order="stroke"/>
<polygon points="968.10,1665.80 985.50,1665.80 976.80,1681.00" fill="#aac392" stroke="#fff" stroke-width="1.30" stroke-linejoin="miter" paint-order="stroke"/>
<polygon points="962.90,1685.50 980.30,1685.50 971.60,1700.70" fill="#aac392" stroke="#fff" stroke-width="1.30" stroke-linejoin="miter" paint-order="stroke"/>
<polygon points="975.30,1691.50 992.70,1691.50 984.00,1706.70" fill="#aac392" stroke="#fff" stroke-width="1.30" stroke-linejoin="miter" paint-order="stroke"/>
<polygon points="920.20,1692.10 937.60,1692.10 928.90,1707.30" fill="#aac392" stroke="#fff" stroke-width="1.30" stroke-linejoin="miter" paint-order="stroke"/>
<polygon points="927.80,1698.50 945.20,1698.50 936.50,1713.70" fill="#aac392" stroke="#fff" stroke-width="1.30" stroke-linejoin="miter" paint-order="stroke"/>
<polygon points="938.50,1711.60 955.90,1711.60 947.20,1726.80" fill="#aac392" stroke="#fff" stroke-width="1.30" stroke-linejoin="miter" paint-order="stroke"/>
<polygon points="918.30,1746.00 935.70,1746.00 927.00,1761.20" fill="#aac392" stroke="#fff" stroke-width="1.30" stroke-linejoin="miter" paint-order="stroke"/>
<polygon points="936.10,1775.50 953.50,1775.50 944.80,1790.70" fill="#aac392" stroke="#fff" stroke-width="1.30" stroke-linejoin="miter" paint-order="stroke"/>
<line x1="944.10" y1="1544.30" x2="944.10" y2="1684.10" stroke="#6b9a3c" stroke-width="5.80" stroke-linecap="round"/>
<polygon points="930.30,1607.25 957.90,1607.25 944.10,1630.95" fill="#6b9a3c" stroke="#000" stroke-width="3.20" stroke-linejoin="round"/>
<polygon points="1135.80,1429.80 1153.20,1429.80 1144.50,1414.60" fill="#c6bbb2" stroke="#fff" stroke-width="1.30" stroke-linejoin="miter" paint-order="stroke"/>
<polygon points="1099.70,1483.60 1117.10,1483.60 1108.40,1468.40" fill="#c6bbb2" stroke="#fff" stroke-width="1.30" stroke-linejoin="miter" paint-order="stroke"/>
<polygon points="1071.20,1532.70 1088.60,1532.70 1079.90,1517.50" fill="#c6bbb2" stroke="#fff" stroke-width="1.30" stroke-linejoin="miter" paint-order="stroke"/>
<polygon points="1085.40,1529.50 1102.80,1529.50 1094.10,1514.30" fill="#c6bbb2" stroke="#fff" stroke-width="1.30" stroke-linejoin="miter" paint-order="stroke"/>
<polygon points="1121.80,1563.40 1139.20,1563.40 1130.50,1548.20" fill="#c6bbb2" stroke="#fff" stroke-width="1.30" stroke-linejoin="miter" paint-order="stroke"/>
<polygon points="1116.80,1563.40 1134.20,1563.40 1125.50,1548.20" fill="#c6bbb2" stroke="#fff" stroke-width="1.30" stroke-linejoin="miter" paint-order="stroke"/>
<polygon points="1132.90,1609.70 1150.30,1609.70 1141.60,1594.50" fill="#c6bbb2" stroke="#fff" stroke-width="1.30" stroke-linejoin="miter" paint-order="stroke"/>
<polygon points="1155.90,1629.50 1173.30,1629.50 1164.60,1614.30" fill="#c6bbb2" stroke="#fff" stroke-width="1.30" stroke-linejoin="miter" paint-order="stroke"/>
<polygon points="1118.70,1713.90 1136.10,1713.90 1127.40,1698.70" fill="#c6bbb2" stroke="#fff" stroke-width="1.30" stroke-linejoin="miter" paint-order="stroke"/>
<polygon points="1096.60,1717.90 1114.00,1717.90 1105.30,1702.70" fill="#c6bbb2" stroke="#fff" stroke-width="1.30" stroke-linejoin="miter" paint-order="stroke"/>
<polygon points="1081.60,1724.00 1099.00,1724.00 1090.30,1708.80" fill="#c6bbb2" stroke="#fff" stroke-width="1.30" stroke-linejoin="miter" paint-order="stroke"/>
<polygon points="1099.70,1740.60 1117.10,1740.60 1108.40,1725.40" fill="#c6bbb2" stroke="#fff" stroke-width="1.30" stroke-linejoin="miter" paint-order="stroke"/>
<polygon points="1141.00,1755.50 1158.40,1755.50 1149.70,1740.30" fill="#c6bbb2" stroke="#fff" stroke-width="1.30" stroke-linejoin="miter" paint-order="stroke"/>
<polygon points="1129.10,1762.70 1146.50,1762.70 1137.80,1747.50" fill="#c6bbb2" stroke="#fff" stroke-width="1.30" stroke-linejoin="miter" paint-order="stroke"/>
<polygon points="1071.70,1860.20 1089.10,1860.20 1080.40,1845.00" fill="#c6bbb2" stroke="#fff" stroke-width="1.30" stroke-linejoin="miter" paint-order="stroke"/>
<polygon points="1097.10,1860.20 1114.50,1860.20 1105.80,1845.00" fill="#c6bbb2" stroke="#fff" stroke-width="1.30" stroke-linejoin="miter" paint-order="stroke"/>
<polygon points="1120.30,1860.20 1137.70,1860.20 1129.00,1845.00" fill="#c6bbb2" stroke="#fff" stroke-width="1.30" stroke-linejoin="miter" paint-order="stroke"/>
<line x1="1120.70" y1="1597.30" x2="1120.70" y2="1726.80" stroke="#8c7666" stroke-width="5.80" stroke-linecap="round"/>
<polygon points="1106.90,1670.05 1134.50,1670.05 1120.70,1646.35" fill="#8c7666" stroke="#000" stroke-width="3.20" stroke-linejoin="round"/>
</g>
<line x1="223.7" y1="477.7" x2="223.7" y2="487.2" stroke="#6a6a6a" stroke-width="2.2"/>
<line x1="400.7" y1="477.7" x2="400.7" y2="487.2" stroke="#6a6a6a" stroke-width="2.2"/>
<line x1="577.7" y1="477.7" x2="577.7" y2="487.2" stroke="#6a6a6a" stroke-width="2.2"/>
<line x1="943.9" y1="477.7" x2="943.9" y2="487.2" stroke="#6a6a6a" stroke-width="2.2"/>
<line x1="1120.8" y1="477.7" x2="1120.8" y2="487.2" stroke="#6a6a6a" stroke-width="2.2"/>
<line x1="1297.7" y1="477.7" x2="1297.7" y2="487.2" stroke="#6a6a6a" stroke-width="2.2"/>
<line x1="223.7" y1="942.5" x2="223.7" y2="952.0" stroke="#6a6a6a" stroke-width="2.2"/>
<line x1="400.7" y1="942.5" x2="400.7" y2="952.0" stroke="#6a6a6a" stroke-width="2.2"/>
<line x1="577.7" y1="942.5" x2="577.7" y2="952.0" stroke="#6a6a6a" stroke-width="2.2"/>
<line x1="943.9" y1="942.5" x2="943.9" y2="952.0" stroke="#6a6a6a" stroke-width="2.2"/>
<line x1="1120.8" y1="942.5" x2="1120.8" y2="952.0" stroke="#6a6a6a" stroke-width="2.2"/>
<line x1="1297.7" y1="942.5" x2="1297.7" y2="952.0" stroke="#6a6a6a" stroke-width="2.2"/>
<line x1="223.7" y1="1407.7" x2="223.7" y2="1417.2" stroke="#6a6a6a" stroke-width="2.2"/>
<line x1="400.7" y1="1407.7" x2="400.7" y2="1417.2" stroke="#6a6a6a" stroke-width="2.2"/>
<line x1="577.7" y1="1407.7" x2="577.7" y2="1417.2" stroke="#6a6a6a" stroke-width="2.2"/>
<line x1="943.9" y1="1407.7" x2="943.9" y2="1417.2" stroke="#6a6a6a" stroke-width="2.2"/>
<line x1="1120.8" y1="1407.7" x2="1120.8" y2="1417.2" stroke="#6a6a6a" stroke-width="2.2"/>
<line x1="1297.7" y1="1407.7" x2="1297.7" y2="1417.2" stroke="#6a6a6a" stroke-width="2.2"/>
<rect x="114.40" y="13.00" width="572.90" height="1859.40" fill="none" stroke="#000" stroke-width="3.20" stroke-linejoin="round"/>
<line x1="114.40" y1="477.70" x2="687.30" y2="477.70" stroke="#000" stroke-width="3.50"/>
<line x1="114.40" y1="942.50" x2="687.30" y2="942.50" stroke="#000" stroke-width="3.50"/>
<line x1="114.40" y1="1407.70" x2="687.30" y2="1407.70" stroke="#000" stroke-width="3.50"/>
<rect x="834.50" y="13.00" width="572.90" height="1859.40" fill="none" stroke="#000" stroke-width="3.20" stroke-linejoin="round"/>
<line x1="834.50" y1="477.70" x2="1407.40" y2="477.70" stroke="#000" stroke-width="3.50"/>
<line x1="834.50" y1="942.50" x2="1407.40" y2="942.50" stroke="#000" stroke-width="3.50"/>
<line x1="834.50" y1="1407.70" x2="1407.40" y2="1407.70" stroke="#000" stroke-width="3.50"/>
<line x1="103.80" y1="440.00" x2="114.40" y2="440.00" stroke="#000" stroke-width="2.40"/>
<text transform="translate(95.70,450.60) scale(1,1.025)" font-size="26.50" text-anchor="end">15</text>
<line x1="103.80" y1="295.30" x2="114.40" y2="295.30" stroke="#000" stroke-width="2.40"/>
<text transform="translate(95.70,305.90) scale(1,1.025)" font-size="26.50" text-anchor="end">20</text>
<line x1="103.80" y1="150.40" x2="114.40" y2="150.40" stroke="#000" stroke-width="2.40"/>
<text transform="translate(95.70,161.00) scale(1,1.025)" font-size="26.50" text-anchor="end">25</text>
<line x1="823.90" y1="460.40" x2="834.50" y2="460.40" stroke="#000" stroke-width="2.40"/>
<text transform="translate(815.70,471.00) scale(1,1.025)" font-size="26.50" text-anchor="end">0</text>
<line x1="823.90" y1="372.00" x2="834.50" y2="372.00" stroke="#000" stroke-width="2.40"/>
<text transform="translate(815.70,382.60) scale(1,1.025)" font-size="26.50" text-anchor="end">20</text>
<line x1="823.90" y1="283.10" x2="834.50" y2="283.10" stroke="#000" stroke-width="2.40"/>
<text transform="translate(815.70,293.70) scale(1,1.025)" font-size="26.50" text-anchor="end">40</text>
<line x1="823.90" y1="194.70" x2="834.50" y2="194.70" stroke="#000" stroke-width="2.40"/>
<text transform="translate(815.70,205.30) scale(1,1.025)" font-size="26.50" text-anchor="end">60</text>
<line x1="823.90" y1="106.10" x2="834.50" y2="106.10" stroke="#000" stroke-width="2.40"/>
<text transform="translate(815.70,116.70) scale(1,1.025)" font-size="26.50" text-anchor="end">80</text>
<line x1="823.90" y1="17.90" x2="834.50" y2="17.90" stroke="#000" stroke-width="2.40"/>
<text transform="translate(815.70,28.50) scale(1,1.025)" font-size="26.50" text-anchor="end">100</text>
<line x1="103.80" y1="933.10" x2="114.40" y2="933.10" stroke="#000" stroke-width="2.40"/>
<text transform="translate(95.70,943.70) scale(1,1.025)" font-size="26.50" text-anchor="end">14</text>
<line x1="103.80" y1="854.80" x2="114.40" y2="854.80" stroke="#000" stroke-width="2.40"/>
<text transform="translate(95.70,865.40) scale(1,1.025)" font-size="26.50" text-anchor="end">16</text>
<line x1="103.80" y1="776.30" x2="114.40" y2="776.30" stroke="#000" stroke-width="2.40"/>
<text transform="translate(95.70,786.90) scale(1,1.025)" font-size="26.50" text-anchor="end">18</text>
<line x1="103.80" y1="698.50" x2="114.40" y2="698.50" stroke="#000" stroke-width="2.40"/>
<text transform="translate(95.70,709.10) scale(1,1.025)" font-size="26.50" text-anchor="end">20</text>
<line x1="103.80" y1="619.90" x2="114.40" y2="619.90" stroke="#000" stroke-width="2.40"/>
<text transform="translate(95.70,630.50) scale(1,1.025)" font-size="26.50" text-anchor="end">22</text>
<line x1="103.80" y1="541.60" x2="114.40" y2="541.60" stroke="#000" stroke-width="2.40"/>
<text transform="translate(95.70,552.20) scale(1,1.025)" font-size="26.50" text-anchor="end">24</text>
<line x1="823.90" y1="924.20" x2="834.50" y2="924.20" stroke="#000" stroke-width="2.40"/>
<text transform="translate(815.70,934.80) scale(1,1.025)" font-size="26.50" text-anchor="end">0</text>
<line x1="823.90" y1="830.10" x2="834.50" y2="830.10" stroke="#000" stroke-width="2.40"/>
<text transform="translate(815.70,840.70) scale(1,1.025)" font-size="26.50" text-anchor="end">20</text>
<line x1="823.90" y1="735.60" x2="834.50" y2="735.60" stroke="#000" stroke-width="2.40"/>
<text transform="translate(815.70,746.20) scale(1,1.025)" font-size="26.50" text-anchor="end">40</text>
<line x1="823.90" y1="641.50" x2="834.50" y2="641.50" stroke="#000" stroke-width="2.40"/>
<text transform="translate(815.70,652.10) scale(1,1.025)" font-size="26.50" text-anchor="end">60</text>
<line x1="823.90" y1="547.10" x2="834.50" y2="547.10" stroke="#000" stroke-width="2.40"/>
<text transform="translate(815.70,557.70) scale(1,1.025)" font-size="26.50" text-anchor="end">80</text>
<line x1="103.80" y1="1357.40" x2="114.40" y2="1357.40" stroke="#000" stroke-width="2.40"/>
<text transform="translate(95.70,1368.00) scale(1,1.025)" font-size="26.50" text-anchor="end">50</text>
<line x1="103.80" y1="1283.20" x2="114.40" y2="1283.20" stroke="#000" stroke-width="2.40"/>
<text transform="translate(95.70,1293.80) scale(1,1.025)" font-size="26.50" text-anchor="end">100</text>
<line x1="103.80" y1="1208.90" x2="114.40" y2="1208.90" stroke="#000" stroke-width="2.40"/>
<text transform="translate(95.70,1219.50) scale(1,1.025)" font-size="26.50" text-anchor="end">150</text>
<line x1="103.80" y1="1134.70" x2="114.40" y2="1134.70" stroke="#000" stroke-width="2.40"/>
<text transform="translate(95.70,1145.30) scale(1,1.025)" font-size="26.50" text-anchor="end">200</text>
<line x1="103.80" y1="1060.50" x2="114.40" y2="1060.50" stroke="#000" stroke-width="2.40"/>
<text transform="translate(95.70,1071.10) scale(1,1.025)" font-size="26.50" text-anchor="end">250</text>
<line x1="103.80" y1="986.30" x2="114.40" y2="986.30" stroke="#000" stroke-width="2.40"/>
<text transform="translate(95.70,996.90) scale(1,1.025)" font-size="26.50" text-anchor="end">300</text>
<line x1="823.90" y1="1348.50" x2="834.50" y2="1348.50" stroke="#000" stroke-width="2.40"/>
<text transform="translate(815.70,1359.10) scale(1,1.025)" font-size="26.50" text-anchor="end">10</text>
<line x1="823.90" y1="1280.30" x2="834.50" y2="1280.30" stroke="#000" stroke-width="2.40"/>
<text transform="translate(815.70,1290.90) scale(1,1.025)" font-size="26.50" text-anchor="end">20</text>
<line x1="823.90" y1="1212.00" x2="834.50" y2="1212.00" stroke="#000" stroke-width="2.40"/>
<text transform="translate(815.70,1222.60) scale(1,1.025)" font-size="26.50" text-anchor="end">30</text>
<line x1="823.90" y1="1143.80" x2="834.50" y2="1143.80" stroke="#000" stroke-width="2.40"/>
<text transform="translate(815.70,1154.40) scale(1,1.025)" font-size="26.50" text-anchor="end">40</text>
<line x1="823.90" y1="1075.30" x2="834.50" y2="1075.30" stroke="#000" stroke-width="2.40"/>
<text transform="translate(815.70,1085.90) scale(1,1.025)" font-size="26.50" text-anchor="end">50</text>
<line x1="823.90" y1="1007.10" x2="834.50" y2="1007.10" stroke="#000" stroke-width="2.40"/>
<text transform="translate(815.70,1017.70) scale(1,1.025)" font-size="26.50" text-anchor="end">60</text>
<line x1="103.80" y1="1843.20" x2="114.40" y2="1843.20" stroke="#000" stroke-width="2.40"/>
<text transform="translate(95.70,1853.80) scale(1,1.025)" font-size="26.50" text-anchor="end">0</text>
<line x1="103.80" y1="1757.20" x2="114.40" y2="1757.20" stroke="#000" stroke-width="2.40"/>
<text transform="translate(95.70,1767.80) scale(1,1.025)" font-size="26.50" text-anchor="end">1</text>
<line x1="103.80" y1="1670.60" x2="114.40" y2="1670.60" stroke="#000" stroke-width="2.40"/>
<text transform="translate(95.70,1681.20) scale(1,1.025)" font-size="26.50" text-anchor="end">2</text>
<line x1="103.80" y1="1584.60" x2="114.40" y2="1584.60" stroke="#000" stroke-width="2.40"/>
<text transform="translate(95.70,1595.20) scale(1,1.025)" font-size="26.50" text-anchor="end">3</text>
<line x1="103.80" y1="1498.40" x2="114.40" y2="1498.40" stroke="#000" stroke-width="2.40"/>
<text transform="translate(95.70,1509.00) scale(1,1.025)" font-size="26.50" text-anchor="end">4</text>
<line x1="103.80" y1="1411.90" x2="114.40" y2="1411.90" stroke="#000" stroke-width="2.40"/>
<text transform="translate(95.70,1422.50) scale(1,1.025)" font-size="26.50" text-anchor="end">5</text>
<line x1="823.90" y1="1853.40" x2="834.50" y2="1853.40" stroke="#000" stroke-width="2.40"/>
<text transform="translate(815.70,1864.00) scale(1,1.025)" font-size="26.50" text-anchor="end">0</text>
<line x1="823.90" y1="1722.00" x2="834.50" y2="1722.00" stroke="#000" stroke-width="2.40"/>
<text transform="translate(815.70,1732.60) scale(1,1.025)" font-size="26.50" text-anchor="end">5</text>
<line x1="823.90" y1="1591.00" x2="834.50" y2="1591.00" stroke="#000" stroke-width="2.40"/>
<text transform="translate(815.70,1601.60) scale(1,1.025)" font-size="26.50" text-anchor="end">10</text>
<line x1="823.90" y1="1459.70" x2="834.50" y2="1459.70" stroke="#000" stroke-width="2.40"/>
<text transform="translate(815.70,1470.30) scale(1,1.025)" font-size="26.50" text-anchor="end">15</text>
<line x1="223.7" y1="1872.4" x2="223.7" y2="1881.9" stroke="#000" stroke-width="2.4"/>
<line x1="400.7" y1="1872.4" x2="400.7" y2="1881.9" stroke="#000" stroke-width="2.4"/>
<line x1="577.7" y1="1872.4" x2="577.7" y2="1881.9" stroke="#000" stroke-width="2.4"/>
<text transform="translate(223.7,1908.0) scale(1,1.040)" font-size="26.50" text-anchor="middle">Live</text>
<text transform="translate(223.7,1937.9) scale(1,1.040)" font-size="26.50" text-anchor="middle">mangrove</text>
<text transform="translate(400.7,1908.0) scale(1,1.040)" font-size="26.50" text-anchor="middle">Ghost</text>
<text transform="translate(400.7,1937.9) scale(1,1.040)" font-size="26.50" text-anchor="middle">forest</text>
<text transform="translate(577.7,1908.0) scale(1,1.040)" font-size="26.50" text-anchor="middle">Seagrass</text>
<line x1="943.9" y1="1872.4" x2="943.9" y2="1881.9" stroke="#000" stroke-width="2.4"/>
<line x1="1120.8" y1="1872.4" x2="1120.8" y2="1881.9" stroke="#000" stroke-width="2.4"/>
<line x1="1297.7" y1="1872.4" x2="1297.7" y2="1881.9" stroke="#000" stroke-width="2.4"/>
<text transform="translate(943.9,1908.0) scale(1,1.040)" font-size="26.50" text-anchor="middle">Live</text>
<text transform="translate(943.9,1937.9) scale(1,1.040)" font-size="26.50" text-anchor="middle">mangrove</text>
<text transform="translate(1120.8,1908.0) scale(1,1.040)" font-size="26.50" text-anchor="middle">Ghost</text>
<text transform="translate(1120.8,1937.9) scale(1,1.040)" font-size="26.50" text-anchor="middle">forest</text>
<text transform="translate(1297.7,1908.0) scale(1,1.040)" font-size="26.50" text-anchor="middle">Seagrass</text>
<text transform="translate(36.40,245.35) rotate(-90)" font-size="30.75" text-anchor="middle">SST (°C)</text>
<text transform="translate(756.20,245.35) rotate(-90)" font-size="30.75" text-anchor="middle">Seagrass cover (%)</text>
<text transform="translate(36.40,710.10) rotate(-90)" font-size="30.75" text-anchor="middle">Air temp (°C)</text>
<text transform="translate(756.20,710.10) rotate(-90)" font-size="30.75" text-anchor="middle">Canopy cover (%)</text>
<text transform="translate(36.40,1175.10) rotate(-90)" font-size="30.75" text-anchor="middle">Sediment size (μm)</text>
<text transform="translate(756.20,1361.30) rotate(-90)" font-size="30.75" text-anchor="start">Stem density (stems plot<tspan font-size="21" dx="1.2" dy="-16.2">−1</tspan><tspan dx="1.5" dy="16.2">)</tspan></text>
<text transform="translate(36.40,1640.05) rotate(-90)" font-size="30.75" text-anchor="middle">ln(Turbidity (NTU))</text>
<text transform="translate(756.20,1640.05) rotate(-90)" font-size="30.75" text-anchor="middle">Diameter at breast height (cm)</text>
<text x="131.80" y="44.90" font-size="33.50" font-weight="bold">A</text>
<text x="131.60" y="512.90" font-size="33.50" font-weight="bold">C</text>
<text x="131.50" y="984.00" font-size="33.50" font-weight="bold">E</text>
<text x="131.60" y="1450.70" font-size="33.50" font-weight="bold">G</text>
<text x="856.60" y="44.90" font-size="33.50" font-weight="bold">B</text>
<text x="856.60" y="513.00" font-size="33.50" font-weight="bold">D</text>
<text x="856.60" y="983.80" font-size="33.50" font-weight="bold">F</text>
<text x="856.60" y="1450.80" font-size="33.50" font-weight="bold">H</text>
</svg></body></html>
